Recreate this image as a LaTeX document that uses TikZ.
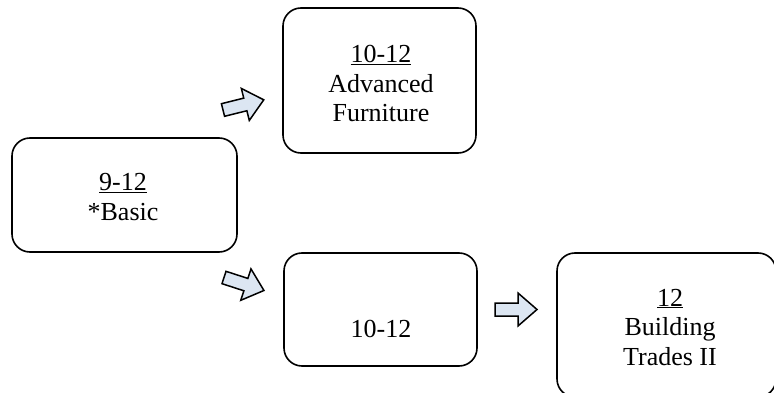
\documentclass[tikz,border=0pt]{standalone}
\usepackage{fontspec}
\setmainfont{Liberation Serif}
\definecolor{arrowfill}{RGB}{220,230,242}
\tikzset{
  box/.style={draw=black, line width=1.6pt, rounded corners=18pt, fill=white},
  txt/.style={align=center, inner sep=0pt, font=\fontsize{26}{29.5}\selectfont},
  arrowstyle/.style={draw=black, line width=1.5pt, fill=arrowfill, line join=miter},
  blockarr/.pic={\path[arrowstyle] (0,-6.5) -- (23,-6.5) -- (23,-16.5) -- (42,0) -- (23,16.5) -- (23,6.5) -- (0,6.5) -- cycle;}
}
\begin{document}
\begin{tikzpicture}[x=1pt,y=-1pt]
\useasboundingbox (0,0) rectangle (774,393);
% boxes
\node[box, minimum width=225pt, minimum height=114pt] (A) at (124.5,195) {};
\node[box, minimum width=193pt, minimum height=145pt] (B) at (379.5,80.5) {};
\node[box, minimum width=193pt, minimum height=113pt] (C) at (380.5,309.5) {};
\node[box, minimum width=219pt, minimum height=144pt] (D) at (666.5,325) {};
% texts (base anchor = baseline of last line)
\node[txt, anchor=base] (At) at (123,220) {\underline{9-12}\\*Basic};
\node[txt, anchor=base] (Bt) at (381,122) {\underline{10-12}\\Advanced\\Furniture};
\node[txt, anchor=base] (Ct) at (381,337) {10-12};
\node[txt, anchor=base] (Dt) at (670,365) {\underline{12}\\Building\\Trades II};
% block arrows
\coordinate (a1) at (223,110);
\coordinate (a2) at (224,277.5);
\coordinate (a3) at (495,309.5);
\pic[rotate=14] at (a1) {blockarr};
\pic[rotate=-18] at (a2) {blockarr};
\pic at (a3) {blockarr};
\end{tikzpicture}
\end{document}
